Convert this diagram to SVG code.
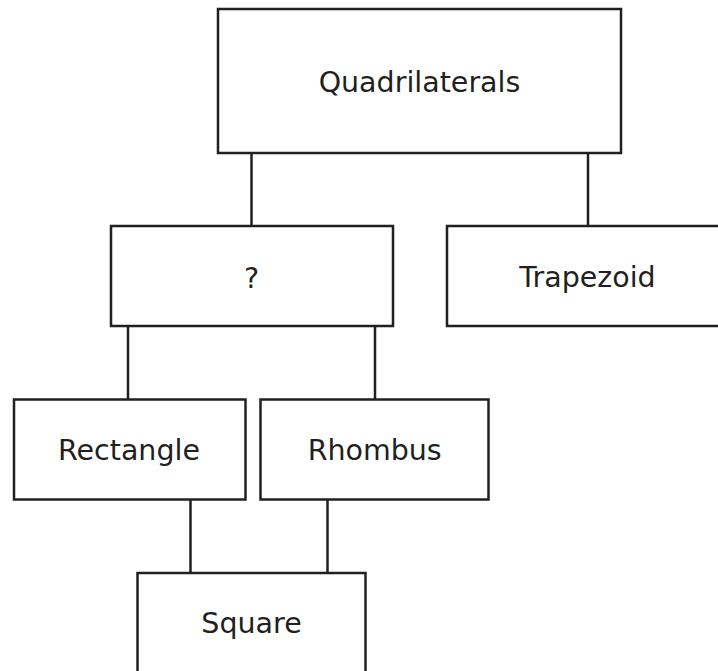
<svg xmlns="http://www.w3.org/2000/svg" width="718" height="671" viewBox="0 0 718 671">
<style>
.box{fill:#fff;stroke:#231f20;stroke-width:2.5}
.lbl{font-family:"DejaVu Sans",Verdana,sans-serif;font-size:28.5px;fill:#231f20;text-anchor:middle}
.conn line{stroke:#231f20;stroke-width:2.5}
</style>
<rect width="718" height="671" fill="#fff"/>
<g class="conn" id="connectors">
<line x1="251.5" y1="153" x2="251.5" y2="226"/>
<line x1="588" y1="153" x2="588" y2="226"/>
<line x1="128" y1="326" x2="128" y2="399.5"/>
<line x1="375" y1="326" x2="375" y2="399.5"/>
<line x1="190.5" y1="499.5" x2="190.5" y2="573"/>
<line x1="327.5" y1="499.5" x2="327.5" y2="573"/>
</g>
<g id="quadrilaterals"><rect class="box" x="218" y="9" width="403" height="144"/><text class="lbl" x="419.5" y="92">Quadrilaterals</text></g>
<g id="unknown"><rect class="box" x="111" y="226" width="282" height="100"/><text class="lbl" x="251.5" y="288">?</text></g>
<g id="trapezoid"><rect class="box" x="447" y="226" width="282" height="100"/><text class="lbl" x="587.5" y="287">Trapezoid</text></g>
<g id="rectangle"><rect class="box" x="14" y="399.5" width="231.5" height="100"/><text class="lbl" x="129" y="460">Rectangle</text></g>
<g id="rhombus"><rect class="box" x="260.5" y="399.5" width="228" height="100"/><text class="lbl" x="374.7" y="459.5">Rhombus</text></g>
<g id="square"><rect class="box" x="137.5" y="573" width="228" height="100"/><text class="lbl" x="251.5" y="633">Square</text></g>
</svg>
